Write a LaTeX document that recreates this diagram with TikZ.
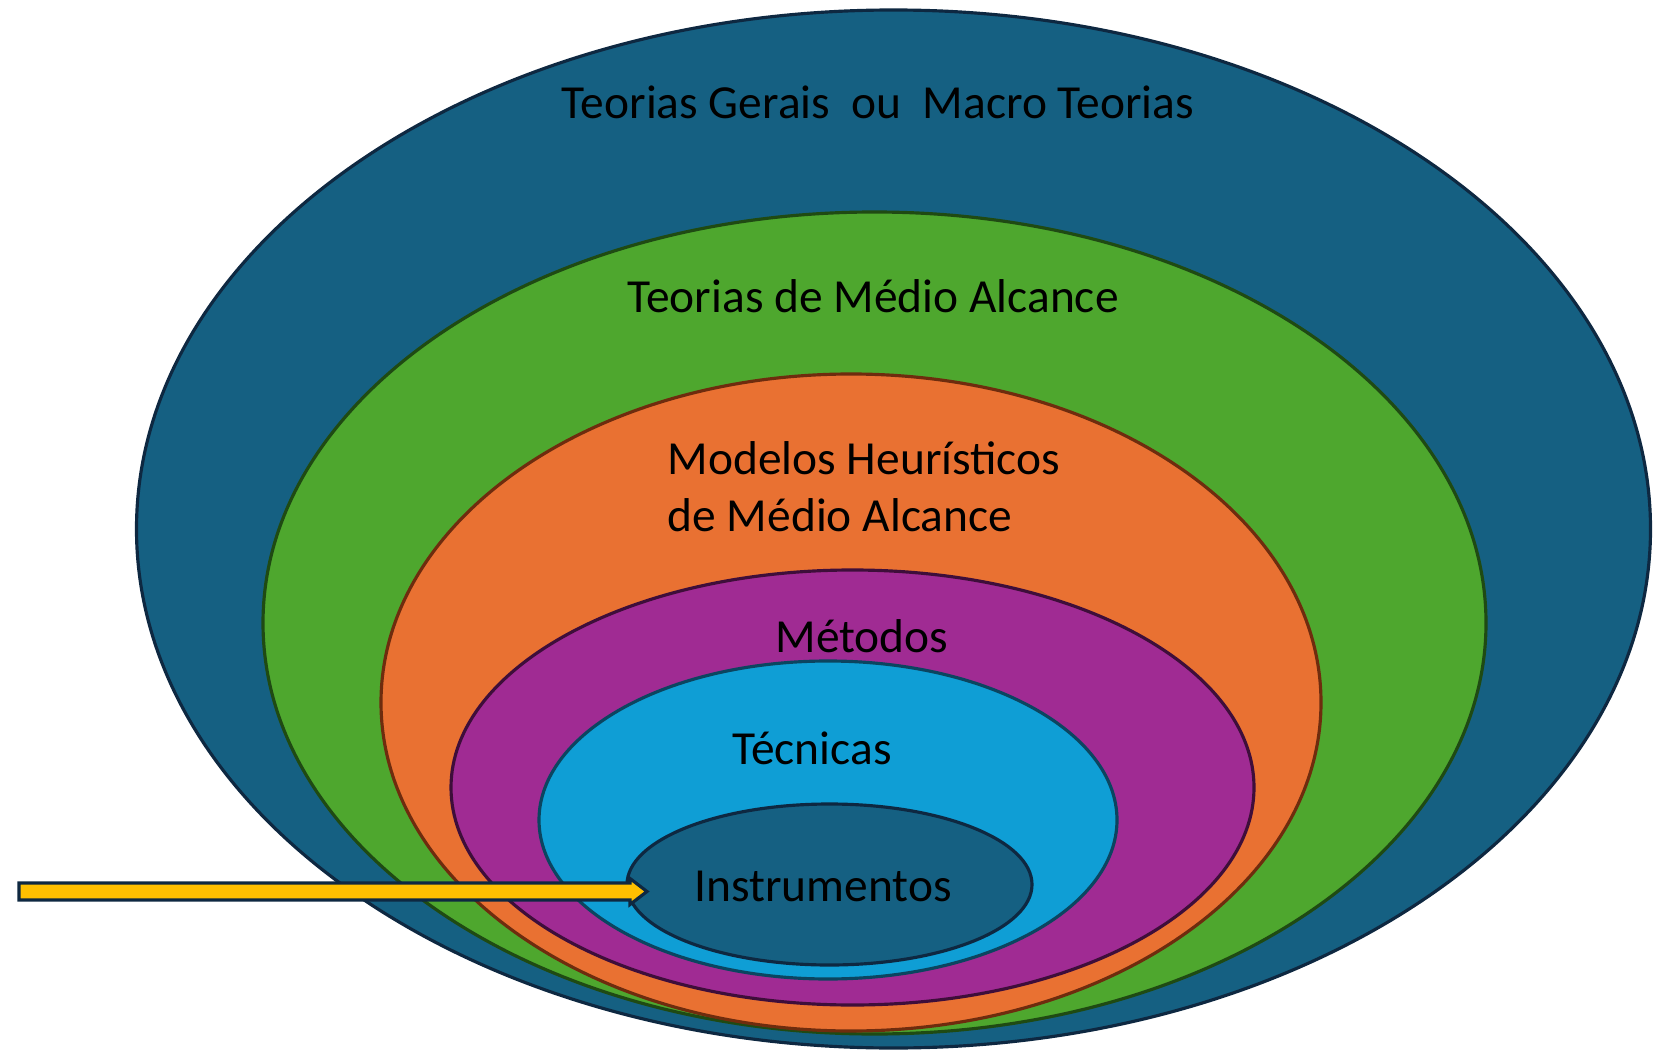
\documentclass[tikz,border=0pt]{standalone}
\usepackage{fontspec}
\setmainfont{Carlito}
\usetikzlibrary{shapes.geometric,calc}

\definecolor{macroblue}{HTML}{156082}
\definecolor{macroline}{HTML}{0E2841}
\definecolor{midgreen}{HTML}{4EA72E}
\definecolor{midline}{HTML}{1F4A13}
\definecolor{heurorange}{HTML}{E97132}
\definecolor{heurline}{HTML}{6E2C0E}
\definecolor{methpurple}{HTML}{A02B93}
\definecolor{methline}{HTML}{3E0E3A}
\definecolor{techcyan}{HTML}{0F9ED5}
\definecolor{techline}{HTML}{0B4560}
\definecolor{pointyellow}{HTML}{FFC000}

\begin{document}
\begin{tikzpicture}[
		layer/.style={ellipse, inner sep=0pt, line width=0.9pt},
		caption/.style={font=\fontsize{13.5}{16.3}\selectfont, text=black, inner sep=0pt},
		pointer/.style={fill=pointyellow, draw=macroline, line width=0.9pt, line join=miter}]
		
		\useasboundingbox (0,0) rectangle (16.63,10.5);
		
		\node[layer, fill=macroblue, draw=macroline, minimum width=15.14cm, minimum height=10.38cm] (Macro) at (8.935,5.21) {};
		\node[layer, fill=midgreen, draw=midline, minimum width=12.23cm, minimum height=8.22cm] (Medio) at (8.745,4.27) {};
		\node[layer, fill=heurorange, draw=heurline, minimum width=9.40cm, minimum height=6.57cm] (Heur) at (8.51,3.475) {};
		\node[layer, fill=methpurple, draw=methline, minimum width=8.03cm, minimum height=4.35cm] (Metodos) at (8.525,2.625) {};
		\node[layer, fill=techcyan, draw=techline, minimum width=5.78cm, minimum height=3.18cm] (Tecnicas) at (8.28,2.30) {};
		\node[layer, fill=macroblue, draw=macroline, minimum width=4.05cm, minimum height=1.61cm] (Instr) at (8.295,1.655) {};
		
		\node[caption] (MacroText) at (8.78,9.48) {Teorias Gerais\ \ ou\ \ Macro Teorias};
		\node[caption] (MedioText) at (8.73,7.54) {Teorias de Médio Alcance};
		\node[caption, anchor=west, align=left] (HeurText) at (6.67,5.635) {Modelos Heurísticos\\de Médio Alcance};
		\node[caption] (MetodosText) at (8.62,4.14) {Métodos};
		\node[caption] (TecnicasText) at (8.12,3.02) {Técnicas};
		\node[caption] (InstrText) at (8.23,1.64) {Instrumentos};
		
		\coordinate (Tail) at (0.19,1.585);
		\coordinate (Tip) at (6.47,1.585);
		\draw[pointer] ($(Tail)+(0,0.085)$) -- ($(Tip)+(-0.17,0.085)$) -- ($(Tip)+(-0.17,0.13)$)
			-- (Tip) -- ($(Tip)+(-0.17,-0.13)$) -- ($(Tip)+(-0.17,-0.085)$)
			-- ($(Tail)+(0,-0.085)$) -- cycle;
		
	\end{tikzpicture}
\end{document}
